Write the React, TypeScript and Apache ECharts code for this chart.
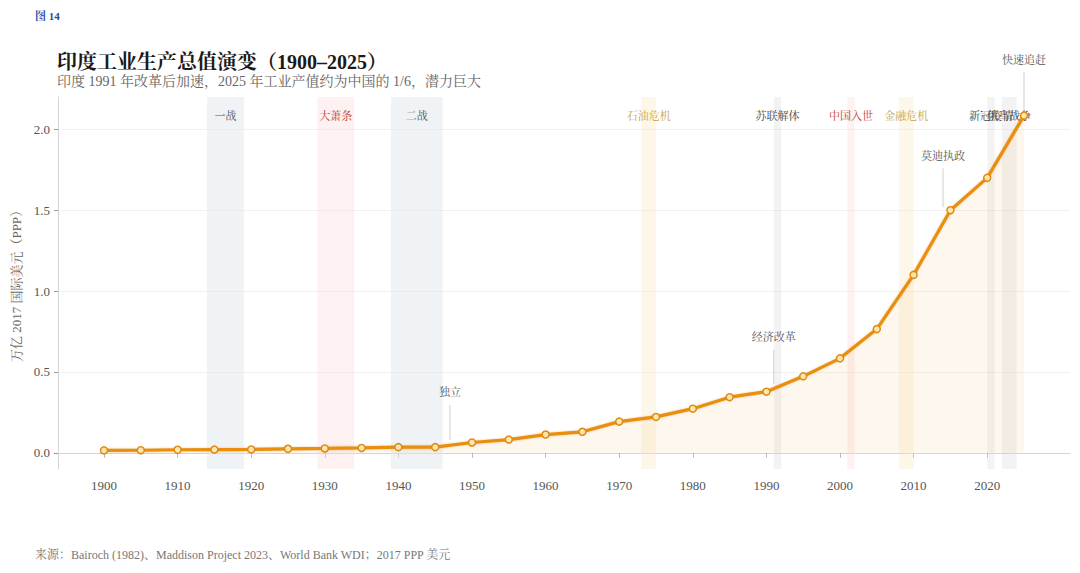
import React, { useEffect, useRef } from "react";
import * as echarts from "echarts";

const YEARS = [1900, 1905, 1910, 1915, 1920, 1925, 1930, 1935, 1940, 1945, 1950, 1955, 1960, 1965, 1970, 1975, 1980, 1985, 1990, 1995, 2000, 2005, 2010, 2015, 2020, 2025];
const VALUES = [0.015, 0.016, 0.019, 0.02, 0.021, 0.025, 0.027, 0.03, 0.035, 0.035, 0.064, 0.082, 0.113, 0.13, 0.193, 0.222, 0.273, 0.344, 0.378, 0.473, 0.584, 0.765, 1.1, 1.5, 1.7, 2.085];

const X_TICKS = [1900, 1910, 1920, 1930, 1940, 1950, 1960, 1970, 1980, 1990, 2000, 2010, 2020];
const Y_TICKS = [0, 0.5, 1.0, 1.5, 2.0];

const EVENT_NAMES = ["一战", "大萧条", "二战", "石油危机", "苏联解体", "中国入世", "金融危机", "新冠疫情", "俄乌战争"];
const EVENT_START = [1914, 1929, 1939, 1973, 1991, 2001, 2008, 2020, 2022];
const EVENT_END = [1919, 1934, 1946, 1975, 1992, 2002, 2010, 2021, 2024];
const EVENT_KIND = ["war", "crisis", "war", "oil", "gray", "crisis", "oil", "gray", "gray"];

const ANNOT_LABELS = ["独立", "经济改革", "莫迪执政", "快速追赶"];
const ANNOT_YEAR = [1947, 1991, 2014, 2025];
const ANNOT_FROM = [0.08, 0.426, 1.519, 2.117];
const ANNOT_TO = [0.296, 0.636, 1.759, 2.354];
const ANNOT_LABEL_AT = [0.377, 0.716, 1.835, 2.426];

const FONT = "'Liberation Serif', 'Noto Serif CJK SC', 'Noto Sans CJK SC', serif";

const KIND_STYLE: Record<string, { fill: string; text: string }> = {
  war: { fill: "rgba(225,232,238,0.5)", text: "#555555" },
  crisis: { fill: "rgba(250,215,215,0.35)", text: "#c0392b" },
  oil: { fill: "rgba(250,232,195,0.35)", text: "#c9a43a" },
  gray: { fill: "rgba(215,215,215,0.3)", text: "#444444" },
};

export default function App() {
  const ref = useRef<HTMLDivElement>(null);
  useEffect(() => {
    if (!ref.current) return;
    const chart = echarts.init(ref.current, undefined, { renderer: "svg" });
    const lineData = YEARS.map((y, i) => [y, VALUES[i]]);
    const markAreaData = EVENT_NAMES.map((name, i) => {
      const st = KIND_STYLE[EVENT_KIND[i]];
      return [
        {
          name,
          xAxis: EVENT_START[i],
          itemStyle: { color: st.fill },
          label: { color: st.text },
        },
        { xAxis: EVENT_END[i] },
      ];
    });
    const annotData = ANNOT_YEAR.map((y, i) => [y, ANNOT_FROM[i], ANNOT_TO[i], ANNOT_LABEL_AT[i]]);

    chart.setOption({
      animation: false,
      backgroundColor: "#ffffff",
      textStyle: { fontFamily: FONT },
      title: [
        {
          text: "图 14",
          left: 35,
          top: 10,
          padding: 0,
          textStyle: { fontSize: 11, fontWeight: "bold", color: "#2c4aa3", fontFamily: FONT },
        },
        {
          text: "印度工业生产总值演变（1900–2025）",
          left: 57,
          top: 52,
          padding: 0,
          textStyle: { fontSize: 20, fontWeight: "bold", color: "#1a1a1a", fontFamily: FONT },
        },
        {
          text: "印度 1991 年改革后加速，2025 年工业产值约为中国的 1/6，潜力巨大",
          left: 57,
          top: 74,
          padding: 0,
          textStyle: { fontSize: 14, fontWeight: "normal", color: "#666666", fontFamily: FONT },
        },
        {
          text: "来源：Bairoch (1982)、Maddison Project 2023、World Bank WDI；2017 PPP 美元",
          left: 35,
          top: 549,
          padding: 0,
          textStyle: { fontSize: 12, fontWeight: "normal", color: "#777777", fontFamily: FONT },
        },
      ],
      grid: { left: 58, right: 10, top: 97, bottom: 104 },
      xAxis: {
        type: "value",
        min: 1893.75,
        max: 2031.25,
        axisLine: { show: true, lineStyle: { color: "#d5d5d5" } },
        axisTick: { show: true, length: 5, lineStyle: { color: "#bbbbbb" }, customValues: X_TICKS },
        axisLabel: {
          customValues: X_TICKS,
          color: "#555555",
          fontSize: 13,
          margin: 10,
          fontFamily: FONT,
          formatter: (v: number) => String(v),
        },
        splitLine: { show: false },
      },
      yAxis: {
        type: "value",
        min: -0.1,
        max: 2.2,
        name: "万亿 2017 国际美元（PPP）",
        nameLocation: "middle",
        nameGap: 32,
        nameTextStyle: { fontSize: 13, color: "#666666", fontFamily: FONT },
        axisLine: { show: true, lineStyle: { color: "#d5d5d5" } },
        axisTick: { show: true, length: 4, lineStyle: { color: "#999999" }, customValues: Y_TICKS },
        axisLabel: {
          customValues: Y_TICKS,
          color: "#555555",
          fontSize: 13,
          margin: 8,
          fontFamily: FONT,
          formatter: (v: number) => v.toFixed(1),
        },
        splitLine: { show: true, lineStyle: { color: "#f1f1f1", width: 1 } },
      },
      series: [
        {
          type: "line",
          data: lineData,
          symbol: "circle",
          symbolSize: 7,
          showSymbol: true,
          lineStyle: {
            color: "#e98e0c",
            width: 3.2,
            shadowColor: "rgba(200,110,0,0.35)",
            shadowBlur: 2,
          },
          itemStyle: { color: "#fde7ae", borderColor: "#de8a12", borderWidth: 1.5 },
          areaStyle: { color: "rgba(248,190,110,0.17)" },
          z: 3,
          markArea: {
            silent: true,
            data: markAreaData,
            label: {
              show: true,
              position: "insideTop",
              distance: 13,
              fontSize: 11,
              fontFamily: FONT,
            },
          },
        },
        {
          type: "custom",
          data: annotData,
          clip: false,
          silent: true,
          z: 4,
          renderItem: (params: any, api: any) => {
            const x = api.value(0);
            const p1 = api.coord([x, api.value(1)]);
            const p2 = api.coord([x, api.value(2)]);
            const p3 = api.coord([x, api.value(3)]);
            return {
              type: "group",
              children: [
                {
                  type: "line",
                  shape: { x1: p1[0], y1: p1[1], x2: p2[0], y2: p2[1] },
                  style: { stroke: "#cfcfcf", lineWidth: 1 },
                },
                {
                  type: "text",
                  x: p3[0],
                  y: p3[1],
                  style: {
                    text: ANNOT_LABELS[params.dataIndex],
                    align: "center",
                    verticalAlign: "middle",
                    fill: "#555555",
                    fontSize: 11,
                    fontFamily: FONT,
                  },
                },
              ],
            };
          },
        },
      ],
    });
    return () => chart.dispose();
  }, []);
  return (
    <div
      ref={ref}
      style={{ position: "fixed", left: 0, top: 0, width: 1080, height: 573, background: "#fff" }}
    />
  );
}
